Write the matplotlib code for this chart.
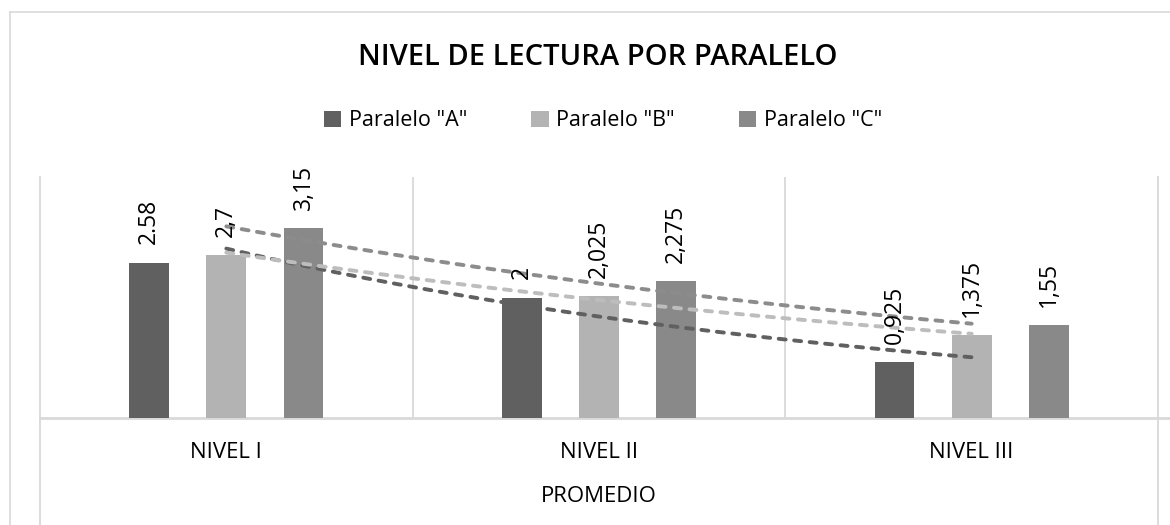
import numpy as np
import matplotlib
matplotlib.use("Agg")
import matplotlib.pyplot as plt
from matplotlib.lines import Line2D

plt.rcParams['font.family'] = ['Open Sans', 'DejaVu Sans']

# ---- data ----
categories = ["NIVEL I", "NIVEL II", "NIVEL III"]
series_names = ['Paralelo "A"', 'Paralelo "B"', 'Paralelo "C"']
paralelo_a = [2.58, 2.0, 0.925]
paralelo_b = [2.7, 2.025, 1.375]
paralelo_c = [3.15, 2.275, 1.55]
labels_a = ["2.58", "2", "0,925"]
labels_b = ["2,7", "2,025", "1,375"]
labels_c = ["3,15", "2,275", "1,55"]
axis_group_label = "PROMEDIO"
title_text = "NIVEL DE LECTURA POR PARALELO"

bar_colors = ["#606060", "#b3b3b3", "#898989"]
trend_colors = ["#606060", "#bdbdbd", "#8c8c8c"]
grid_color = "#d9d9d9"

W, H = 1170, 525
fig = plt.figure(figsize=(W / 100, H / 100), dpi=100)

# chart outer border (top and left)
fig.add_artist(Line2D([10 / W, 10 / W], [0, 1 - 12 / H], color=grid_color, lw=1.2))
fig.add_artist(Line2D([10 / W, 1], [1 - 12 / H, 1 - 12 / H], color=grid_color, lw=1.2))

left_px, right_px, top_px, base_px = 40, 1158, 177, 418
ax = fig.add_axes([left_px / W, (H - base_px) / H, (right_px - left_px) / W, (base_px - top_px) / H])
ax.set_xlim(0.5, 3.5)
ax.set_ylim(0, 4)
for s in ax.spines.values():
    s.set_visible(False)
ax.set_yticks([])

x = np.arange(1, len(categories) + 1)
offset = 0.207
width = 0.107
all_vals = [paralelo_a, paralelo_b, paralelo_c]
all_labels = [labels_a, labels_b, labels_c]

# gridlines
below = -(H - base_px) / (base_px - top_px)
ax.axvline(0.5, ymin=below, ymax=1, color=grid_color, lw=1.3, clip_on=False, zorder=0)
ax.axvline(3.5, ymin=below, ymax=1, color=grid_color, lw=1.3, clip_on=False, zorder=0)
for gx in [1.5, 2.5]:
    ax.axvline(gx, ymin=0, ymax=1, color=grid_color, lw=1.3, zorder=0)
ax.axhline(0, xmin=0, xmax=(W - left_px) / (right_px - left_px), color=grid_color, lw=2.0,
           clip_on=False, zorder=1)

handles = []
for i, (vals, labs) in enumerate(zip(all_vals, all_labels)):
    pos = x + (i - 1) * offset
    b = ax.bar(pos, vals, width=width, color=bar_colors[i], label=series_names[i], zorder=2)
    handles.append(b)
    for p, v, t in zip(pos, vals, labs):
        ax.annotate(t, (p, v), xytext=(0, 13), textcoords='offset points',
                    rotation=90, ha='center', va='bottom', fontsize=16.5, color='black',
                    zorder=4)

# exponential trendlines
xs = np.linspace(1, 3, 60)
for i, vals in enumerate(all_vals):
    bcoef, acoef = np.polyfit(x, np.log(vals), 1)
    ys = np.exp(acoef) * np.exp(bcoef * xs)
    ax.plot(xs, ys, color=trend_colors[i], lw=2.8, linestyle=(0, (1.8, 2.2)),
            dash_capstyle='round', zorder=3)

ax.set_xticks(x)
ax.set_xticklabels(categories, fontsize=16)
ax.tick_params(axis='x', length=0, pad=17)
ax.set_xlabel(axis_group_label, fontsize=16, labelpad=17)

fig.text(598 / W, 1 - 65 / H, title_text, ha='center', va='baseline', fontsize=21,
         fontweight='semibold', color='black')

fig.legend(handles=handles, labels=series_names, loc='center', ncol=3, frameon=False,
           bbox_to_anchor=(603 / W, 1 - 121 / H), fontsize=15.5, handlelength=0.8,
           handleheight=0.8, handletextpad=0.34, columnspacing=3.0)

fig.savefig("out.png", dpi=100, facecolor='white')
